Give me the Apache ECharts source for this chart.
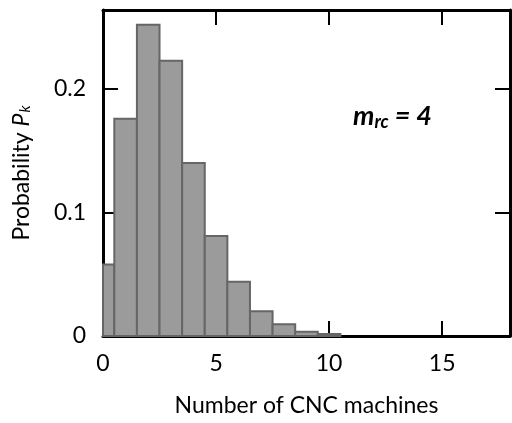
<!DOCTYPE html>
<html>
<head>
<meta charset="utf-8">
<script src="https://cdn.jsdelivr.net/npm/echarts@6/dist/echarts.min.js"></script>
<style>
html, body { margin: 0; padding: 0; background: #fff; }
#chart { width: 512px; height: 423px; }
</style>
</head>
<body>
<div id="chart"></div>
<script>
// number of CNC machines k and probability P_k
var machines = [0, 1, 2, 3, 4, 5, 6, 7, 8, 9, 10];
var probs = [0.058, 0.176, 0.252, 0.223, 0.140, 0.081, 0.044, 0.020, 0.0095, 0.0035, 0.0016];
var xTicks = [0, 5, 10, 15];
var yTicks = [0, 0.1, 0.2];

var font = 'Lato';
var histData = machines.map(function (k, i) { return [k, probs[i]]; });

var chart = echarts.init(document.getElementById('chart'));

var axisCommon = {
    axisLine: { show: true, onZero: false, lineStyle: { color: '#000', width: 3 } },
    axisTick: { show: true, inside: true, length: 15, lineStyle: { color: '#000', width: 2 } },
    splitLine: { show: false }
};

var option = {
    backgroundColor: '#fff',
    animation: false,
    grid: { left: 103, right: 2, top: 10, bottom: 87 },
    xAxis: [
        Object.assign({
            type: 'value', position: 'bottom',
            min: 0, max: 18, interval: 5,
            axisLabel: {
                color: '#000', fontFamily: font, fontSize: 23, margin: 16,
                showMaxLabel: false,
                formatter: function (v) { return xTicks.indexOf(v) >= 0 ? String(v) : ''; }
            },
            name: 'Number of CNC machines',
            nameLocation: 'middle', nameGap: 58,
            nameTextStyle: { color: '#000', fontFamily: font, fontSize: 23 }
        }, axisCommon),
        Object.assign({
            type: 'value', position: 'top',
            min: 0, max: 18, interval: 5,
            axisLabel: { show: false }
        }, axisCommon)
    ],
    yAxis: [
        Object.assign({
            type: 'value', position: 'left',
            min: 0, max: 0.264, interval: 0.1,
            axisLabel: {
                color: '#000', fontFamily: font, fontSize: 23, margin: 17,
                showMaxLabel: false,
                formatter: function (v) {
                    var r = Math.round(v * 10) / 10;
                    return yTicks.indexOf(r) >= 0 ? String(r) : '';
                }
            },
            name: 'Probability {i|P}{s|k}',
            nameLocation: 'middle', nameGap: 70, nameRotate: 90,
            nameTextStyle: {
                color: '#000', fontFamily: font, fontSize: 23,
                rich: {
                    i: { fontFamily: font, fontSize: 23, fontStyle: 'italic', color: '#000' },
                    s: { fontFamily: font, fontSize: 15, fontStyle: 'italic', color: '#000', verticalAlign: 'bottom', padding: [8, 0, 0, 1] }
                }
            }
        }, axisCommon),
        Object.assign({
            type: 'value', position: 'right',
            min: 0, max: 0.264, interval: 0.1,
            axisLabel: { show: false }
        }, axisCommon)
    ],
    graphic: [{
        type: 'text',
        left: 353, top: 103,
        style: {
            text: '{m|m}{s|rc}{m| = 4}',
            rich: {
                m: { fontFamily: font, fontSize: 27, fontWeight: 'bold', fontStyle: 'italic', fill: '#000' },
                s: { fontFamily: font, fontSize: 18, fontWeight: 'bold', fontStyle: 'italic', fill: '#000', verticalAlign: 'bottom', padding: [12, 0, 0, 0] }
            }
        }
    }],
    series: [{
        type: 'custom',
        xAxisIndex: 0, yAxisIndex: 0,
        data: histData,
        renderItem: function (params, api) {
            var k = api.value(0), p = api.value(1);
            var a = api.coord([Math.max(k - 0.5, 0), p]);
            var b = api.coord([k + 0.5, 0]);
            return {
                type: 'rect',
                shape: { x: a[0], y: a[1], width: b[0] - a[0], height: b[1] - a[1] },
                style: { fill: '#9b9b9b', stroke: '#666', lineWidth: 2 }
            };
        }
    }]
};
chart.setOption(option);
</script>
</body>
</html>
